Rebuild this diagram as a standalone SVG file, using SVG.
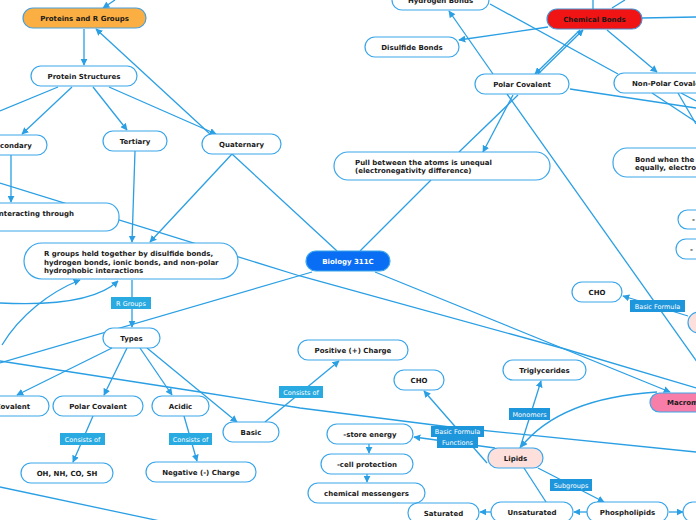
<svg xmlns="http://www.w3.org/2000/svg" width="696" height="520" viewBox="0 0 696 520">
<defs>
<marker id="a" viewBox="0 0 10 10" refX="9" refY="5" markerWidth="7" markerHeight="7" orient="auto" markerUnits="userSpaceOnUse"><path d="M0,0 L10,5 L0,10 z" fill="#2a9fe4"/></marker>
<style>
.c{fill:none;stroke:#2a9fe4;stroke-width:1.3}
.c.m{marker-end:url(#a)}
.n{fill:#fff;stroke:#3aa6ea;stroke-width:1.2}
.t{font-family:"DejaVu Sans",Verdana,sans-serif;font-weight:bold;font-size:7px;fill:#1a1a1a;text-anchor:middle}
.tl{text-anchor:start}
.lb{fill:#29abe2}
.lb2{fill:#1e96dc}
.lt{font-family:"DejaVu Sans",Verdana,sans-serif;font-size:6.5px;fill:#fff;text-anchor:middle}
</style>
</defs>
<rect width="696" height="520" fill="#fff"/>
<g id="connectors">
<path class="c m" d="M115,0 L103,8"/>
<path class="c m" d="M84,29 L84,65"/>
<path class="c m" d="M72,87 L22,134"/>
<path class="c" d="M58,87 L0,111"/>
<path class="c m" d="M93,87 L127,130"/>
<path class="c m" d="M109,87 L216,134"/>
<path class="c m" d="M210,134 L96,29"/>
<path class="c m" d="M232,154 L150,242"/>
<path class="c" d="M232,154 L337,251"/>
<path class="c" d="M360,251 L431,180"/>
<path class="c" d="M459,152 L518,95"/>
<path class="c m" d="M513,95 L483,152"/>
<path class="c m" d="M537,75 L583,30"/>
<path class="c m" d="M580,30 L535,74"/>
<path class="c m" d="M493,74 L449,11"/>
<path class="c m" d="M548,27 L459,40"/>
<path class="c" d="M490,4 L618,74"/>
<path class="c m" d="M607,30 L657,72"/>
<path class="c" d="M642,18 L696,17"/>
<path class="c" d="M593,0 L593,9"/>
<path class="c" d="M612,8 L625,0"/>
<path class="c" d="M570,89 L696,108"/>
<path class="c" d="M652,93 L696,122"/>
<path class="c" d="M678,93 L696,124"/>
<path class="c" d="M681,93 L696,101"/>
<path class="c" d="M507,94 L700,366"/>
<path class="c" d="M312,272 L0,363"/>
<path class="c" d="M0,361 L200,392 L300,408 L450,427 L696,452"/>
<path class="c m" d="M375,272 L670,392"/>
<path class="c" d="M0,183 L300,276 L565,349 L696,388"/>
<path class="c m" d="M11,155 L11,202"/>
<path class="c m" d="M135,151 L132,242"/>
<path class="c m" d="M132,280 L132,327"/>
<path class="c m" d="M0,303 C60,306 100,298 118,281"/>
<path class="c m" d="M2,345 C20,315 50,292 80,280"/>
<path class="c m" d="M112,348 L17,395"/>
<path class="c m" d="M127,348 L104,395"/>
<path class="c m" d="M140,348 L172,395"/>
<path class="c m" d="M147,348 L237,422"/>
<path class="c m" d="M93,416 L73,462"/>
<path class="c m" d="M184,416 L197,461"/>
<path class="c m" d="M265,422 L339,361"/>
<path class="c m" d="M487,463 L424,391"/>
<path class="c m" d="M495,448 L414,437"/>
<path class="c m" d="M369,444 L369,453"/>
<path class="c m" d="M367,474 L367,482"/>
<path class="c m" d="M520,448 L541,381"/>
<path class="c m" d="M657,392 Q560,398 521,447"/>
<path class="c" d="M524,468 L546,502"/>
<path class="c m" d="M538,468 L604,502"/>
<path class="c m" d="M587,512 L574,512"/>
<path class="c m" d="M491,512 L480,512"/>
<path class="c m" d="M669,512 L683,512"/>
<path class="c m" d="M688,316 L623,296"/>
<path class="c" d="M0,487 L160,521"/>
</g>
<g id="labels">
<g id="lbl-rgroups"><rect class="lb" x="111" y="297" width="40" height="12"/><text class="lt" x="131" y="305.5">R Groups</text></g>
<g id="lbl-consists1"><rect class="lb" x="60" y="433" width="45" height="12"/><text class="lt" x="82.5" y="441.5">Consists of</text></g>
<g id="lbl-consists2"><rect class="lb" x="169" y="433" width="43" height="12"/><text class="lt" x="190.5" y="441.5">Consists of</text></g>
<g id="lbl-consists3"><rect class="lb" x="279" y="386" width="44" height="12"/><text class="lt" x="301" y="394.5">Consists of</text></g>
<g id="lbl-basicformula1"><rect class="lb2" x="630" y="300" width="55" height="12"/><text class="lt" x="657.5" y="308.5">Basic Formula</text></g>
<g id="lbl-basicformula2"><rect class="lb2" x="431" y="426" width="53" height="11"/><text class="lt" x="457.5" y="434">Basic Formula</text></g>
<g id="lbl-functions"><rect class="lb2" x="437" y="436" width="41" height="12"/><text class="lt" x="457.5" y="444.5">Functions</text></g>
<g id="lbl-monomers"><rect class="lb2" x="509" y="408" width="41" height="12"/><text class="lt" x="529.5" y="416.5">Monomers</text></g>
<g id="lbl-subgroups"><rect class="lb2" x="550" y="479" width="42" height="12"/><text class="lt" x="571" y="487.5">Subgroups</text></g>
</g>
<g id="n-proteins"><rect x="23" y="8" width="123" height="20" rx="10" fill="#fbae42" stroke="#4a9fd8" stroke-width="1.2"/><text class="t" x="84.5" y="20.5">Proteins and R Groups</text></g>
<g id="n-structures"><rect class="n" x="31" y="66" width="106" height="20" rx="10"/><text class="t" x="84" y="78.5">Protein Structures</text></g>
<g id="n-secondary"><rect class="n" x="-25" y="135" width="72" height="20" rx="10"/><text class="t" x="11" y="147.5">Secondary</text></g>
<g id="n-tertiary"><rect class="n" x="103" y="131" width="64" height="20" rx="10"/><text class="t" x="135" y="143.5">Tertiary</text></g>
<g id="n-quaternary"><rect class="n" x="202" y="134" width="79" height="20" rx="10"/><text class="t" x="241.5" y="146.5">Quaternary</text></g>
<g id="n-interacting"><rect class="n" x="-40" y="203" width="159" height="28" rx="13"/><text class="t" x="74" y="215.5" style="text-anchor:end">interacting through</text></g>
<g id="n-rgroups"><rect class="n" x="24" y="243" width="214" height="36" rx="18"/><text class="t tl" x="44" y="256">R groups held together by disulfide bonds,</text><text class="t tl" x="44" y="264.5">hydrogen bonds, ionic bonds, and non-polar</text><text class="t tl" x="44" y="273">hydrophobic interactions</text></g>
<g id="n-types"><rect class="n" x="103" y="328" width="57" height="20" rx="10"/><text class="t" x="131.5" y="340.5">Types</text></g>
<g id="n-nonpolar2"><rect class="n" x="-65" y="396" width="114" height="20" rx="10"/><text class="t" x="-8" y="408.5">Non-Polar Covalent</text></g>
<g id="n-polar2"><rect class="n" x="53" y="396" width="90" height="20" rx="10"/><text class="t" x="98" y="408.5">Polar Covalent</text></g>
<g id="n-acidic"><rect class="n" x="152" y="396" width="57" height="20" rx="10"/><text class="t" x="180.5" y="408.5">Acidic</text></g>
<g id="n-basic"><rect class="n" x="223" y="422" width="56" height="20" rx="10"/><text class="t" x="251" y="434.5">Basic</text></g>
<g id="n-oh"><rect class="n" x="21" y="463" width="92" height="20" rx="10"/><text class="t" x="67" y="475.5">OH, NH, CO, SH</text></g>
<g id="n-negative"><rect class="n" x="146" y="462" width="110" height="20" rx="10"/><text class="t" x="201" y="474.5">Negative (-) Charge</text></g>
<g id="n-positive"><rect class="n" x="298" y="340" width="110" height="20" rx="10"/><text class="t" x="353" y="352.5">Positive (+) Charge</text></g>
<g id="n-cho2"><rect class="n" x="394" y="370" width="50" height="20" rx="10"/><text class="t" x="419" y="382.5">CHO</text></g>
<g id="n-store"><rect class="n" x="327" y="424" width="86" height="20" rx="10"/><text class="t" x="370" y="436.5">-store energy</text></g>
<g id="n-cell"><rect class="n" x="321" y="454" width="92" height="20" rx="10"/><text class="t" x="367" y="466.5">-cell protection</text></g>
<g id="n-chem"><rect class="n" x="308" y="483" width="117" height="20" rx="10"/><text class="t" x="366.5" y="495.5">chemical messengers</text></g>
<g id="n-saturated"><rect class="n" x="408" y="503" width="71" height="20" rx="10"/><text class="t" x="443.5" y="515.5">Saturated</text></g>
<g id="n-unsaturated"><rect class="n" x="491" y="502" width="82" height="20" rx="10"/><text class="t" x="532" y="514.5">Unsaturated</text></g>
<g id="n-phospholipids"><rect class="n" x="587" y="502" width="81" height="20" rx="10"/><text class="t" x="627.5" y="514.5">Phospholipids</text></g>
<g id="n-steroids"><rect class="n" x="683" y="502" width="60" height="20" rx="10"/></g>
<g id="n-lipids"><rect x="488" y="448" width="55" height="20" rx="10" fill="#fde0dc" stroke="#3aa6ea" stroke-width="1.2"/><text class="t" x="515.5" y="460.5">Lipids</text></g>
<g id="n-triglycerides"><rect class="n" x="503" y="360" width="83" height="20" rx="10"/><text class="t" x="544.5" y="372.5">Triglycerides</text></g>
<g id="n-macro"><rect x="650" y="393" width="110" height="19" rx="9.5" fill="#f77ea9" stroke="#3aa6ea" stroke-width="1.2"/><text class="t tl" x="667" y="405">Macromolecules</text></g>
<g id="n-biology"><rect x="306" y="251" width="84" height="20" rx="10" fill="#0a6ef5" stroke="#3aa6ea" stroke-width="1.2"/><text class="t" x="348" y="263.5" style="fill:#fff">Biology 311C</text></g>
<g id="n-cho1"><rect class="n" x="572" y="282" width="50" height="20" rx="10"/><text class="t" x="597" y="294.5">CHO</text></g>
<g id="n-carbs"><rect x="688" y="312" width="70" height="21" rx="10.5" fill="#fde0dc" stroke="#3aa6ea" stroke-width="1.2"/></g>
<g id="n-r1"><rect class="n" x="678" y="210" width="60" height="19" rx="9.5"/><text class="t tl" x="692" y="222">-</text></g>
<g id="n-r2"><rect class="n" x="676" y="239" width="60" height="20" rx="10"/><text class="t tl" x="690" y="251.5">-</text></g>
<g id="n-polar1"><rect class="n" x="475" y="74" width="94" height="20" rx="10"/><text class="t" x="522" y="86.5">Polar Covalent</text></g>
<g id="n-disulfide"><rect class="n" x="365" y="37" width="94" height="20" rx="10"/><text class="t" x="412" y="49.5">Disulfide Bonds</text></g>
<g id="n-hydrogen"><rect class="n" x="392" y="-10" width="97" height="20" rx="10"/><text class="t" x="440.5" y="2.5">Hydrogen Bonds</text></g>
<g id="n-chembonds"><rect x="547" y="9" width="95" height="20" rx="10" fill="#f01414" stroke="#4a8fd0" stroke-width="1.2"/><text class="t" x="594.5" y="21.5">Chemical Bonds</text></g>
<g id="n-nonpolar1"><rect class="n" x="614" y="73" width="120" height="20" rx="10"/><text class="t tl" x="632" y="85.5">Non-Polar Covalent</text></g>
<g id="n-pull"><rect class="n" x="334" y="152" width="216" height="28" rx="14"/><text class="t tl" x="355" y="165">Pull between the atoms is unequal</text><text class="t tl" x="355" y="173">(electronegativity difference)</text></g>
<g id="n-bond"><rect class="n" x="613" y="148" width="140" height="29" rx="14"/><text class="t tl" x="635" y="161.5">Bond when the</text><text class="t tl" x="635" y="169.5">equally, electro</text></g>
</svg>
